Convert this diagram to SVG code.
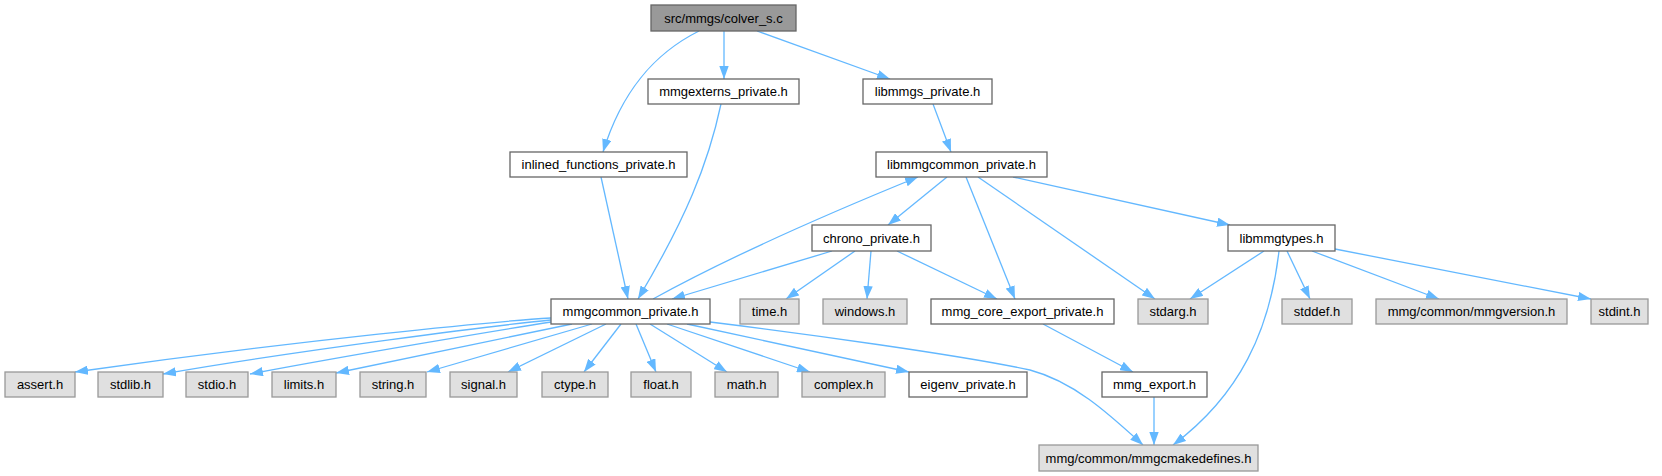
<svg xmlns="http://www.w3.org/2000/svg" width="1662" height="476" viewBox="0 0 1662 476">
<style>
.n rect{fill:#ffffff;stroke:#666666;stroke-width:1.3}
.g rect{fill:#e0e0e0;stroke:#999999;stroke-width:1.3}
.r rect{fill:#999999;stroke:#666666;stroke-width:1.3}
text{font-family:"Liberation Sans",Arial,Helvetica,sans-serif;font-size:13px;fill:#000000;text-anchor:middle}
#edges path{fill:none;stroke:#63b8ff;stroke-width:1.3;marker-end:url(#arr)}
</style>
<defs>
<marker id="arr" viewBox="0 0 13 9.4" refX="13" refY="4.7" markerWidth="13" markerHeight="9.4" markerUnits="userSpaceOnUse" orient="auto">
<path d="M0,0 L13,4.7 L0,9.4 z" fill="#63b8ff" stroke="none"/>
</marker>
</defs>
<rect width="1662" height="476" fill="#ffffff"/>
<g id="edges">
<path d="M699,31 C655,53 622,90 603,152"/>
<path d="M724,31 L724,79"/>
<path d="M757,31 L890,79"/>
<path d="M721,104 C708,165 685,220 638,299"/>
<path d="M601,177 L628,299"/>
<path d="M933,104 L951,152"/>
<path d="M947,177 L888,225"/>
<path d="M966,177 L1015,299"/>
<path d="M978,177 L1155,299"/>
<path d="M1013,177 L1230,225"/>
<path d="M653,299 C720,262 800,225 918,177"/>
<path d="M832,251 L672,299"/>
<path d="M855,251 L786,299"/>
<path d="M871,251 L867,299"/>
<path d="M897,251 L997,299"/>
<path d="M1264,251 L1190,299"/>
<path d="M1279,251 C1270,330 1240,395 1173,445"/>
<path d="M1287,251 L1310,299"/>
<path d="M1312,251 L1439,299"/>
<path d="M1335,249 L1591,299"/>
<path d="M1043,324 L1133,372"/>
<path d="M1154,397 L1154,445"/>
<path d="M710,322 C800,333 960,355 1030,370 C1075,382 1110,415 1143,445"/>
<path d="M551,318 C500,321 300,340 75,372"/>
<path d="M551,320 C500,325 300,350 163,374"/>
<path d="M551,322 C500,330 350,355 250,374"/>
<path d="M572,324 L336,373"/>
<path d="M592,324 L427,372"/>
<path d="M606,324 L508,372"/>
<path d="M621,324 L584,372"/>
<path d="M636,324 L656,372"/>
<path d="M650,324 L727,372"/>
<path d="M667,324 L810,372"/>
<path d="M687,324 L909,372"/>
</g>
<g id="colver_s" class="r"><rect x="651" y="5" width="145" height="26"/><text x="723.5" y="22.5">src/mmgs/colver_s.c</text></g>
<g id="mmgexterns_private" class="n"><rect x="648" y="79" width="151" height="25"/><text x="723.5" y="96">mmgexterns_private.h</text></g>
<g id="libmmgs_private" class="n"><rect x="863" y="79" width="129" height="25"/><text x="927.5" y="96">libmmgs_private.h</text></g>
<g id="inlined_functions_private" class="n"><rect x="510" y="152" width="177" height="25"/><text x="598.5" y="169">inlined_functions_private.h</text></g>
<g id="libmmgcommon_private" class="n"><rect x="876" y="152" width="171" height="25"/><text x="961.5" y="169">libmmgcommon_private.h</text></g>
<g id="chrono_private" class="n"><rect x="812" y="225" width="119" height="26"/><text x="871.5" y="242.5">chrono_private.h</text></g>
<g id="libmmgtypes" class="n"><rect x="1228" y="225" width="107" height="26"/><text x="1281.5" y="242.5">libmmgtypes.h</text></g>
<g id="mmgcommon_private" class="n"><rect x="551" y="299" width="159" height="25"/><text x="630.5" y="316">mmgcommon_private.h</text></g>
<g id="time" class="g"><rect x="740" y="299" width="59" height="25"/><text x="769.5" y="316">time.h</text></g>
<g id="windows" class="g"><rect x="823" y="299" width="84" height="25"/><text x="865" y="316">windows.h</text></g>
<g id="mmg_core_export_private" class="n"><rect x="931" y="299" width="183" height="25"/><text x="1022.5" y="316">mmg_core_export_private.h</text></g>
<g id="stdarg" class="g"><rect x="1138" y="299" width="70" height="25"/><text x="1173" y="316">stdarg.h</text></g>
<g id="stddef" class="g"><rect x="1282" y="299" width="70" height="25"/><text x="1317" y="316">stddef.h</text></g>
<g id="mmgversion" class="g"><rect x="1376" y="299" width="191" height="25"/><text x="1471.5" y="316">mmg/common/mmgversion.h</text></g>
<g id="stdint" class="g"><rect x="1591" y="299" width="57" height="25"/><text x="1619.5" y="316">stdint.h</text></g>
<g id="assert" class="g"><rect x="5" y="372" width="70" height="25"/><text x="40" y="389">assert.h</text></g>
<g id="stdlib" class="g"><rect x="98" y="372" width="65" height="25"/><text x="130.5" y="389">stdlib.h</text></g>
<g id="stdio" class="g"><rect x="186" y="372" width="62" height="25"/><text x="217" y="389">stdio.h</text></g>
<g id="limits" class="g"><rect x="272" y="372" width="64" height="25"/><text x="304" y="389">limits.h</text></g>
<g id="string" class="g"><rect x="360" y="372" width="66" height="25"/><text x="393" y="389">string.h</text></g>
<g id="signal" class="g"><rect x="450" y="372" width="67" height="25"/><text x="483.5" y="389">signal.h</text></g>
<g id="ctype" class="g"><rect x="542" y="372" width="66" height="25"/><text x="575" y="389">ctype.h</text></g>
<g id="float" class="g"><rect x="631" y="372" width="60" height="25"/><text x="661" y="389">float.h</text></g>
<g id="math" class="g"><rect x="715" y="372" width="63" height="25"/><text x="746.5" y="389">math.h</text></g>
<g id="complex" class="g"><rect x="802" y="372" width="83" height="25"/><text x="843.5" y="389">complex.h</text></g>
<g id="eigenv_private" class="n"><rect x="909" y="372" width="118" height="25"/><text x="968" y="389">eigenv_private.h</text></g>
<g id="mmg_export" class="n"><rect x="1102" y="372" width="105" height="25"/><text x="1154.5" y="389">mmg_export.h</text></g>
<g id="mmgcmakedefines" class="g"><rect x="1039" y="445" width="219" height="26"/><text x="1148.5" y="462.5">mmg/common/mmgcmakedefines.h</text></g>
</svg>
